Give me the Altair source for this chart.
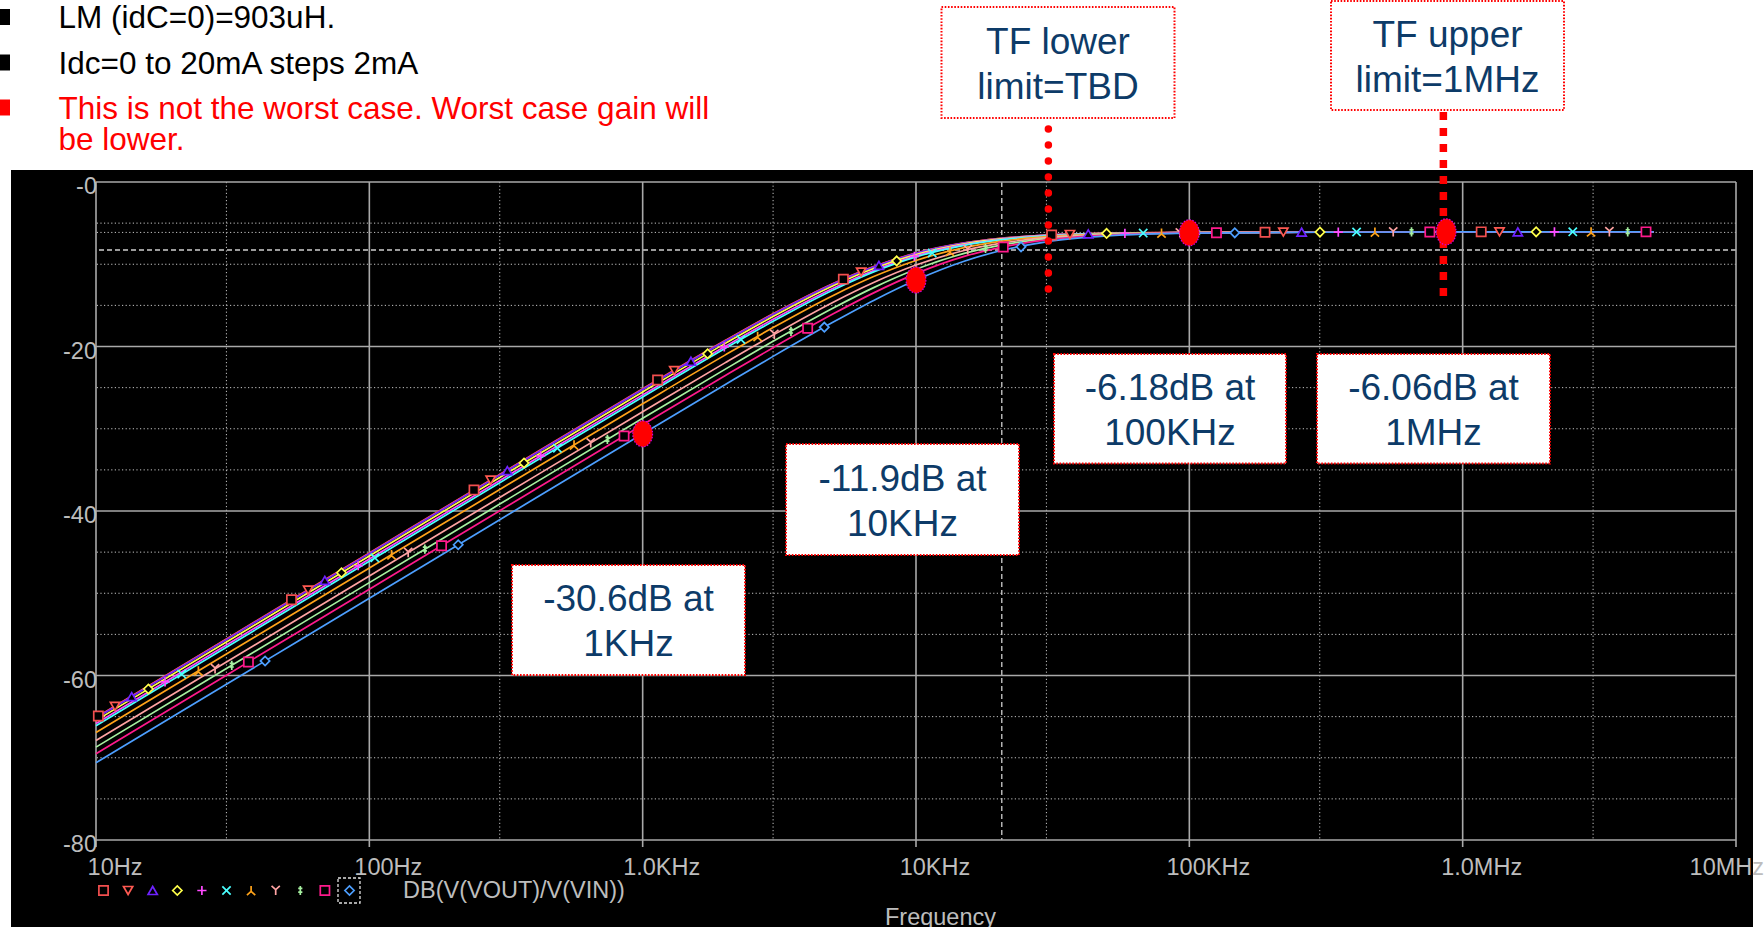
import math
import numpy as np
import pandas as pd
import altair as alt

# ---------------- data ----------------
FREQ_HZ = [10, 30, 100, 300, 1000, 2000, 3000, 5000, 7000, 10000, 15000,
           20000, 30000, 50000, 100000, 300000, 1000000, 5000000]

IDC = ["0mA", "2mA", "4mA", "6mA", "8mA", "10mA", "12mA", "14mA", "16mA", "18mA", "20mA"]

DB_0MA = [-65.09, -55.55, -45.09, -35.55, -25.14, -19.28, -16.01, -12.30, -10.28, -8.63, -7.41, -6.89, -6.47, -6.24, -6.13, -6.09, -6.06, -6.06]
DB_2MA = [-65.14, -55.59, -45.14, -35.59, -25.19, -19.33, -16.06, -12.34, -10.31, -8.66, -7.42, -6.89, -6.47, -6.24, -6.13, -6.09, -6.06, -6.06]
DB_4MA = [-65.18, -55.64, -45.18, -35.64, -25.24, -19.37, -16.10, -12.37, -10.34, -8.68, -7.44, -6.90, -6.47, -6.24, -6.14, -6.09, -6.06, -6.06]
DB_6MA = [-65.47, -55.93, -45.47, -35.93, -25.52, -19.65, -16.36, -12.59, -10.52, -8.81, -7.51, -6.95, -6.50, -6.25, -6.14, -6.09, -6.06, -6.06]
DB_8MA = [-65.84, -56.29, -45.84, -36.29, -25.88, -20.00, -16.69, -12.88, -10.75, -8.98, -7.62, -7.02, -6.53, -6.26, -6.14, -6.09, -6.06, -6.06]
DB_10MA = [-66.10, -56.56, -46.10, -36.56, -26.14, -20.25, -16.93, -13.09, -10.93, -9.11, -7.70, -7.07, -6.56, -6.27, -6.14, -6.09, -6.06, -6.06]
DB_12MA = [-66.93, -57.39, -46.93, -37.39, -26.96, -21.05, -17.70, -13.76, -11.50, -9.54, -7.97, -7.25, -6.65, -6.31, -6.15, -6.10, -6.06, -6.06]
DB_14MA = [-67.90, -58.36, -47.90, -38.36, -27.93, -21.99, -18.61, -14.58, -12.22, -10.10, -8.33, -7.49, -6.77, -6.36, -6.17, -6.10, -6.06, -6.06]
DB_16MA = [-68.71, -59.16, -48.71, -39.16, -28.73, -22.78, -19.37, -15.29, -12.84, -10.61, -8.68, -7.73, -6.90, -6.41, -6.18, -6.10, -6.06, -6.06]
DB_18MA = [-69.51, -59.96, -49.51, -39.96, -29.52, -23.56, -20.14, -16.00, -13.48, -11.14, -9.05, -8.00, -7.04, -6.47, -6.19, -6.11, -6.06, -6.06]
DB_20MA = [-70.61, -61.06, -50.61, -41.06, -30.62, -24.65, -21.20, -17.00, -14.40, -11.92, -9.63, -8.42, -7.28, -6.56, -6.22, -6.11, -6.06, -6.06]

TRACE_DB = [DB_0MA, DB_2MA, DB_4MA, DB_6MA, DB_8MA, DB_10MA,
            DB_12MA, DB_14MA, DB_16MA, DB_18MA, DB_20MA]

# marker cycles along the traces (frequency of first marker, spacing in decades)
MARKER_CYCLE_START_HZ = [10.2, 51.9, 241.5, 1134, 5423, 31350, 189200, 1169000]
MARKER_CYCLE_STEP_DEC = [0.061, 0.061, 0.061, 0.061, 0.065, 0.067, 0.067, 0.067]

# cursor points (big red dots)
CURSOR_DOT_HZ = [1000, 10000, 100000, 870000]
CURSOR_DOT_DB = [-30.62, -11.92, -6.18, -6.06]

# PSpice cursor crosshair lines
CURSOR_H_DOTTED_DB = [-6.13]
CURSOR_H_DASHED_DB = [-8.27]
CURSOR_V_DASHED_HZ = [20600]

# TF limit lines
TF_LOWER_HZ = [30500]
TF_UPPER_HZ = [850000]

# axes
X_MAJOR_HZ = [10, 100, 1000, 10000, 100000, 1000000, 10000000]
X_TICK_LABELS = ["10Hz", "100Hz", "1.0KHz", "10KHz", "100KHz", "1.0MHz", "10MHz"]
X_MINOR_HZ = [30, 300, 3000, 30000, 300000, 3000000]
Y_MAJOR_DB = [0, -20, -40, -60, -80]
Y_TICK_LABELS = ["-0", "-20", "-40", "-60", "-80"]
Y_MINOR_DB = [-5, -10, -15, -25, -30, -35, -45, -50, -55, -65, -70, -75]

# ---------------- styles ----------------
COLORS = ["#f24f4f", "#ff5a52", "#6e22ff", "#ffff4a", "#ff4aff", "#4affff",
          "#ffa31a", "#ffa3a3", "#a6f0a0", "#ff1a8c", "#4d9fff"]
SHAPES = [
    "square",
    "triangle-down",
    "triangle-up",
    "diamond",
    "M-1,0L1,0M0,-1L0,1",
    "M-0.9,-0.9L0.9,0.9M-0.9,0.9L0.9,-0.9",
    "M0,-1L0,0.2M0,0.2L-0.9,1M0,0.2L0.9,1",
    "M0,1L0,-0.2M0,-0.2L-0.9,-1M0,-0.2L0.9,-1",
    "M0,-1L0,1M-0.45,-0.45L0.45,-0.45M-0.45,0.35L0.45,0.35",
    "square",
    "diamond",
]
FONT = "Liberation Sans"
GRAY_TXT = "#bdbdbd"
MAJOR_GRID = "#a9a9a9"
MINOR_GRID = "#c4c4c4"
NAVY = "#0d3b68"
MARK_SIZE = 85

W, H = 1640, 658
OX, OY = 96, 182   # plot origin on the page

XS = alt.Scale(type="log", domain=[10, 10000000], nice=False)
YS = alt.Scale(domain=[-80, 0], nice=False, zero=False)

# ---------------- tables ----------------
rows = []
for name, vals in zip(IDC, TRACE_DB):
    for f, v in zip(FREQ_HZ, vals):
        rows.append({"trace": name, "freq": f, "db": v})
traces_df = pd.DataFrame(rows)

logf = np.log10(FREQ_HZ)
mrows = []
f_end = math.log10(FREQ_HZ[-1])
for start, step in zip(MARKER_CYCLE_START_HZ, MARKER_CYCLE_STEP_DEC):
    for k, (name, vals) in enumerate(zip(IDC, TRACE_DB)):
        lf = math.log10(start) + k * step
        if lf <= f_end:
            mrows.append({"trace": name, "freq": 10 ** lf,
                          "db": float(np.interp(lf, logf, vals))})
markers_df = pd.DataFrame(mrows)

ONE = pd.DataFrame({"a": [0]})

color_scale = alt.Scale(domain=IDC, range=COLORS)
shape_scale = alt.Scale(domain=IDC, range=SHAPES)


def px(x):
    return x - OX


def py(y):
    return y - OY


def vrect(x1, x2, y1, y2, **kw):
    return alt.Chart(ONE).mark_rect(**kw).encode(
        x=alt.value(px(x1)), x2=alt.value(px(x2)),
        y=alt.value(py(y1)), y2=alt.value(py(y2)))


def vtext(txt, x, y, size, color, align="left", baseline="alphabetic"):
    return alt.Chart(ONE).mark_text(
        text=txt, align=align, baseline=baseline, fontSize=size,
        color=color, font=FONT).encode(x=alt.value(px(x)), y=alt.value(py(y)))


layers = []

# black plot background
layers.append(vrect(11, 1753, 170, 927, fill="black"))

# minor grid
layers.append(alt.Chart(pd.DataFrame({"f": X_MINOR_HZ})).mark_rule(
    color=MINOR_GRID, strokeWidth=1, strokeDash=[1.2, 2.4]).encode(
    x=alt.X("f:Q", scale=XS, axis=None)))
layers.append(alt.Chart(pd.DataFrame({"d": Y_MINOR_DB + CURSOR_H_DOTTED_DB})).mark_rule(
    color=MINOR_GRID, strokeWidth=1, strokeDash=[1.2, 2.4]).encode(
    y=alt.Y("d:Q", scale=YS, axis=None)))
# cursor dashed lines
layers.append(alt.Chart(pd.DataFrame({"d": CURSOR_H_DASHED_DB})).mark_rule(
    color="#cfcfcf", strokeWidth=1.3, strokeDash=[5, 3]).encode(
    y=alt.Y("d:Q", scale=YS, axis=None)))
layers.append(alt.Chart(pd.DataFrame({"f": CURSOR_V_DASHED_HZ})).mark_rule(
    color="#cfcfcf", strokeWidth=1.3, strokeDash=[5, 3]).encode(
    x=alt.X("f:Q", scale=XS, axis=None)))
# major grid
layers.append(alt.Chart(pd.DataFrame({"f": X_MAJOR_HZ})).mark_rule(
    color=MAJOR_GRID, strokeWidth=1.6).encode(
    x=alt.X("f:Q", scale=XS, axis=None)))
layers.append(alt.Chart(pd.DataFrame({"d": Y_MAJOR_DB})).mark_rule(
    color=MAJOR_GRID, strokeWidth=1.6).encode(
    y=alt.Y("d:Q", scale=YS, axis=None)))
# ticks below x axis
layers.append(alt.Chart(pd.DataFrame({"f": X_MAJOR_HZ})).mark_rule(
    color=MAJOR_GRID, strokeWidth=1.6).encode(
    x=alt.X("f:Q", scale=XS, axis=None), y=alt.value(H), y2=alt.value(H + 7)))

# traces
layers.append(alt.Chart(traces_df).mark_line(strokeWidth=1.7, interpolate="monotone").encode(
    x=alt.X("freq:Q", scale=XS, axis=None),
    y=alt.Y("db:Q", scale=YS, axis=None),
    color=alt.Color("trace:N", scale=color_scale, legend=None, sort=IDC),
    detail="trace:N"))

# trace markers
layers.append(alt.Chart(markers_df).mark_point(strokeWidth=1.7, size=MARK_SIZE, opacity=1).encode(
    x=alt.X("freq:Q", scale=XS, axis=None),
    y=alt.Y("db:Q", scale=YS, axis=None),
    shape=alt.Shape("trace:N", scale=shape_scale, legend=None),
    stroke=alt.Stroke("trace:N", scale=color_scale, legend=None),
    fill=alt.value("black"), fillOpacity=alt.value(1)))

# TF limit lines
layers.append(alt.Chart(pd.DataFrame({"f": TF_LOWER_HZ})).mark_rule(
    color="#ff0000", strokeWidth=7.5, strokeDash=[0.01, 16], strokeCap="round").encode(
    x=alt.X("f:Q", scale=XS, axis=None), y=alt.value(py(113)), y2=alt.value(py(292))))
layers.append(alt.Chart(pd.DataFrame({"f": TF_UPPER_HZ})).mark_rule(
    color="#ff0000", strokeWidth=7.5, strokeDash=[8, 8]).encode(
    x=alt.X("f:Q", scale=XS, axis=None), y=alt.value(py(112)), y2=alt.value(py(300))))

# cursor dots
ELLIPSE = "M0,-1A0.76,1,0,1,1,0,1A0.76,1,0,1,1,0,-1Z"
layers.append(alt.Chart(pd.DataFrame({"f": CURSOR_DOT_HZ, "d": CURSOR_DOT_DB})).mark_point(
    shape=ELLIPSE, size=680, filled=True, fill="#ff0000", opacity=1,
    stroke="#d000e0", strokeWidth=1.2, strokeDash=[1.5, 1.5]).encode(
    x=alt.X("f:Q", scale=XS, axis=None), y=alt.Y("d:Q", scale=YS, axis=None)))

# annotation boxes
BOXES = [
    (512, 745, 565, 675, "-30.6dB at", "1KHz"),
    (786, 1019, 444, 555, "-11.9dB at", "10KHz"),
    (1054, 1286, 354, 463.5, "-6.18dB at", "100KHz"),
    (1317, 1550, 354, 463.5, "-6.06dB at", "1MHz"),
    (941.5, 1174.5, 7, 118, "TF lower", "limit=TBD"),
    (1331, 1564, 1, 110, "TF upper", "limit=1MHz"),
]
for x1, x2, y1, y2, t1, t2 in BOXES:
    cx, cy = (x1 + x2) / 2, (y1 + y2) / 2
    layers.append(vrect(x1, x2, y1, y2, fill="white", stroke="#ff0000",
                        strokeWidth=2, strokeDash=[1.6, 1.6]))
    layers.append(vtext(t1, cx, cy - 9, 37, NAVY, align="center"))
    layers.append(vtext(t2, cx, cy + 36, 37, NAVY, align="center"))

# axis labels
layers.append(alt.Chart(pd.DataFrame({"d": Y_MAJOR_DB, "t": Y_TICK_LABELS})).mark_text(
    align="right", baseline="alphabetic", dy=12, dx=1, fontSize=23.5, font=FONT,
    color=GRAY_TXT).encode(
    x=alt.value(0), y=alt.Y("d:Q", scale=YS, axis=None), text="t:N"))
xl = pd.DataFrame({"f": X_MAJOR_HZ, "t": X_TICK_LABELS})
layers.append(alt.Chart(xl.iloc[:-1]).mark_text(
    align="center", baseline="alphabetic", dx=19, fontSize=23.5, font=FONT,
    color=GRAY_TXT).encode(
    x=alt.X("f:Q", scale=XS, axis=None), y=alt.value(py(875)), text="t:N"))
layers.append(alt.Chart(xl.iloc[-1:]).mark_text(
    align="right", baseline="alphabetic", dx=28, fontSize=23.5, font=FONT,
    color=GRAY_TXT).encode(
    x=alt.X("f:Q", scale=XS, axis=None), y=alt.value(py(875)), text="t:N"))
layers.append(vtext("DB(V(VOUT)/V(VIN))", 403, 898, 23.5, GRAY_TXT))
layers.append(vtext("Frequency", 940.5, 925, 23.5, GRAY_TXT, align="center"))

# legend symbols
for k in range(len(IDC)):
    layers.append(alt.Chart(ONE).mark_point(
        shape=SHAPES[k], size=MARK_SIZE, stroke=COLORS[k], strokeWidth=1.7,
        fill="black", fillOpacity=1, opacity=1).encode(
        x=alt.value(px(103.5 + 24.6 * k)), y=alt.value(py(890.5))))
layers.append(vrect(338, 360, 878, 903, fill="black", fillOpacity=0,
                    stroke="#e0e0e0", strokeWidth=1.3, strokeDash=[3, 2]))

# header bullets and text
HEADER = [
    ("LM (idC=0)=903uH.", 28, "#000000", True),
    ("Idc=0 to 20mA steps 2mA", 73.5, "#000000", True),
    ("This is not the worst case. Worst case gain will", 118.5, "#ff0000", True),
    ("be lower.", 150, "#ff0000", False),
]
for txt, base, col, bullet in HEADER:
    if bullet:
        layers.append(vrect(0, 10, base - 19, base - 3, fill=col))
    layers.append(vtext(txt, 58.5, base, 31.5, col))

chart = alt.layer(*layers).properties(
    width=W, height=H,
    autosize=alt.AutoSizeParams(type="none"),
    padding={"left": OX, "top": OY, "right": 1764 - OX - W, "bottom": 927 - OY - H},
    background="white",
).configure_view(stroke=None)

chart.save("out.html", embed_options={"renderer": "svg", "actions": False})
